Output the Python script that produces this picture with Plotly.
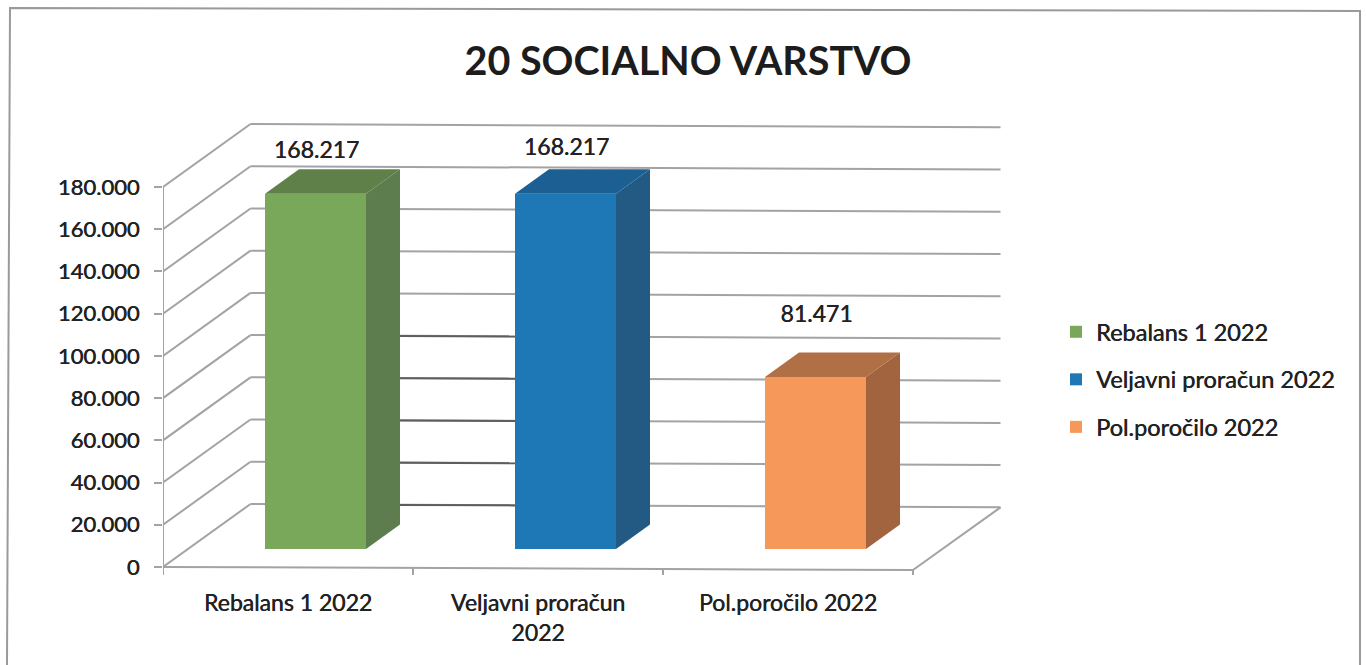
import plotly.graph_objects as go

CATEGORIES = ["Rebalans 1 2022", "Veljavni proračun<br>2022", "Pol.poročilo 2022"]
SERIES = ["Rebalans 1 2022", "Veljavni proračun 2022", "Pol.poročilo 2022"]
VALUES = [168217, 168217, 81471]
LABELS = ["168.217", "168.217", "81.471"]
Y_TICKS = [0, 20000, 40000, 60000, 80000, 100000, 120000, 140000, 160000, 180000]
Y_TICK_TEXT = ["0", "20.000", "40.000", "60.000", "80.000", "100.000", "120.000", "140.000", "160.000", "180.000"]
FRONT = ["#7aa85a", "#1f78b6", "#f6985a"]
SIDE = ["#5e7d4e", "#225a83", "#a1643f"]
TOP = ["#5f8149", "#1c5f92", "#b06f45"]
LABEL_LIFT = [28400, 29800, 37500]

W, H = 1366, 665
PL, PR, PT, PB = 163, 1010, 120, 575   # page pixels of the plot area
PX_V = 180000 / 380        # value units per pixel
PX_C = 1 / 250             # category units per pixel
DX, DV = 87.5 * PX_C, 63 * PX_V   # wall depth
BAR_W = 101 * PX_C
BAR_SHIFT = 27.5 * PX_C
BAR_BASE = 18 * PX_V
BAR_DX, BAR_DV = 34 * PX_C, 24.5 * PX_V
GRID = "#a3a3a3"
FONT = "Lato"
TXT = "#222222"
HEAVY = "0.45px 0 0 #222222"


def tilt(x):
    return -(x + 0.5) * PX_V        # about 3 px over the axis: the scan is slightly rotated


def seg(x0, y0, x1, y1, color=GRID, w=2):
    return dict(type="line", xref="x", yref="y", x0=x0, y0=y0, x1=x1, y1=y1,
                line=dict(color=color, width=w), layer="below")


def fx(px):
    return (px - PL) / (PR - PL)


def fy(py):
    return (PB - py) / (PB - PT)


shapes = []
xl, xr = -0.5, 2.5
for v in Y_TICKS:
    shapes.append(seg(xl, v, xl + DX, v + DV))
    shapes.append(seg(xl + DX, v + DV, xr + DX, v + DV + tilt(xr + DX)))
# floor edge and axes
shapes.append(seg(xr, tilt(xr), xr + DX, DV + tilt(xr + DX)))
shapes.append(seg(xl, 0, xl, 180000))
shapes.append(seg(xl, 0, xr, tilt(xr)))
for c in [-0.5, 0.5, 1.5, 2.5]:
    shapes.append(seg(c, tilt(c), c, -3800))
# darker scan segments between first two bars
gap0 = 0 + BAR_SHIFT + BAR_W / 2 + BAR_DX
gap1 = 1 + BAR_SHIFT - BAR_W / 2
for v in Y_TICKS[0:5]:
    shapes.append(seg(gap0, v + DV + tilt(gap0), gap1, v + DV + tilt(gap1), "#5e5e5e", 2))
# scanned page frame
shapes.append(dict(type="path", xref="paper", yref="paper",
                   path="M %f %f L %f %f L %f %f L %f %f" % (
                       fx(7), fy(665), fx(10), fy(8), fx(1360), fy(11), fx(1360), fy(665)),
                   line=dict(color="#9a9a9a", width=2)))

fig = go.Figure()
for i, (name, v) in enumerate(zip(SERIES, VALUES)):
    cx = i + BAR_SHIFT
    l, r = cx - BAR_W / 2, cx + BAR_W / 2
    y0, y1 = BAR_BASE, BAR_BASE + v
    fig.add_trace(go.Bar(x=[cx], y=[v], base=[BAR_BASE], width=[BAR_W], name=name,
                         legendgroup=name, marker=dict(color=FRONT[i], line=dict(width=0)),
                         hoverinfo="skip"))
    fig.add_trace(go.Scatter(x=[r, r + BAR_DX, r + BAR_DX, r, r],
                             y=[y0, y0 + BAR_DV, y1 + BAR_DV, y1, y0], mode="lines",
                             fill="toself", fillcolor=SIDE[i], line=dict(width=0),
                             showlegend=False, hoverinfo="skip"))
    fig.add_trace(go.Scatter(x=[l, r, r + BAR_DX, l + BAR_DX, l],
                             y=[y1, y1, y1 + BAR_DV, y1 + BAR_DV, y1], mode="lines",
                             fill="toself", fillcolor=TOP[i], line=dict(width=0),
                             showlegend=False, hoverinfo="skip"))
    fig.add_trace(go.Scatter(x=[cx + 1 * PX_C], y=[v + LABEL_LIFT[i]], mode="text", text=[LABELS[i]],
                             textposition="middle center",
                             textfont=dict(family=FONT, size=23, color=TXT, shadow=HEAVY),
                             showlegend=False, hoverinfo="skip"))

fig.update_layout(
    width=W, height=H,
    margin=dict(l=PL, r=W - PR, t=PT, b=H - PB, autoexpand=False),
    paper_bgcolor="#ffffff", plot_bgcolor="rgba(0,0,0,0)",
    barmode="overlay",
    shapes=shapes,
    title=dict(text="<b>20 SOCIALNO VARSTVO</b>", x=688 / W, xanchor="center",
               y=1 - 61 / H, yanchor="middle",
               font=dict(family=FONT, size=39.5, color="#1c1c1c")),
    xaxis=dict(range=[-0.5, 2.5 + (PR - 913) * PX_C], tickvals=[0, 1, 2], ticktext=CATEGORIES,
               showgrid=False, zeroline=False, showline=False, ticks="",
               ticklabelstandoff=12,
               tickfont=dict(family=FONT, size=23, color=TXT, shadow=HEAVY)),
    yaxis=dict(range=[-3800, (567 - PT) * PX_V], tickvals=Y_TICKS, ticktext=Y_TICK_TEXT,
               showgrid=False, zeroline=False, showline=False, ticks="outside", ticklen=8,
               tickwidth=2, tickcolor=GRID, ticklabelstandoff=10,
               tickfont=dict(family=FONT, size=22, color=TXT, shadow=HEAVY)),
    legend=dict(x=fx(1056), xanchor="left", y=fy(310), yanchor="top",
                tracegroupgap=14, font=dict(family=FONT, size=23.5, color=TXT, shadow=HEAVY),
                itemwidth=30, bgcolor="rgba(0,0,0,0)"),
    showlegend=True,
)
fig.write_html("out.html", config={"displayModeBar": False},
               post_script="document.body.style.margin='0';document.documentElement.style.overflow='hidden';")
